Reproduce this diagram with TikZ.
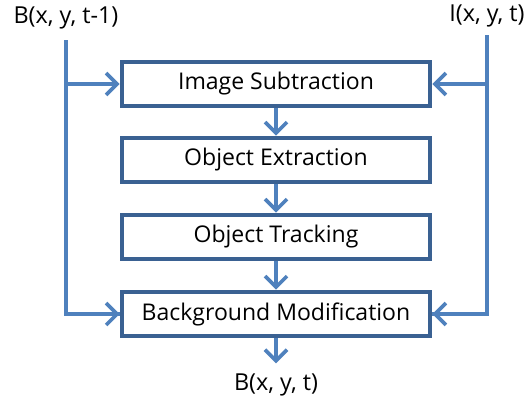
\documentclass[tikz,border=0pt]{standalone}
\usepackage{fontspec}
\setmainfont{Open Sans}
\usetikzlibrary{arrows.meta}
\definecolor{azul}{HTML}{4F81BD}
\definecolor{borda}{HTML}{3A6192}
\begin{document}
\begin{tikzpicture}[
                etapa/.style={shape=rectangle, draw=borda, line width=2.6pt, minimum width=6.16cm, minimum height=0.88cm, font=\fontsize{13.1}{15}\selectfont},
                rotulo/.style={font=\fontsize{13.3}{15}\selectfont, inner sep=1pt},
                fluxo/.style={draw=azul, line width=2.1pt},
                seta/.style={fluxo, -{Straight Barb[length=2.2mm, width=4.4mm]}},
            ]
            \useasboundingbox (0, 0) rectangle (10.62, 8.16);
            \node[etapa] (sub) at (5.52, 6.48) {Image Subtraction};
            \node[etapa] (ext) at (5.52, 4.96) {Object Extraction};
            \node[etapa] (trk) at (5.52, 3.42) {Object Tracking};
            \node[etapa] (mod) at (5.52, 1.88) {Background Modification};
            \node[rotulo] (bant) at (1.32, 7.80) {B(x, y, t-1)};
            \node[rotulo] (img) at (9.74, 7.84) {I(x, y, t)};
            \node[rotulo] (bnov) at (5.52, 0.46) {B(x, y, t)};
            \coordinate (esq) at (1.32, 7.36);
            \coordinate (dir) at (9.74, 7.46);
            \draw[fluxo] (esq) |- (mod.west);
            \draw[seta] (esq |- sub.west) -- (sub.west);
            \draw[seta] (esq |- mod.west) -- (mod.west);
            \draw[fluxo] (dir) |- (mod.east);
            \draw[seta] (dir |- sub.east) -- (sub.east);
            \draw[seta] (dir |- mod.east) -- (mod.east);
            \draw[seta] (sub) -- (ext);
            \draw[seta] (ext) -- (trk);
            \draw[seta] (trk) -- (mod);
            \draw[seta] (mod.south) -- ++(0, -0.5);
        \end{tikzpicture}
\end{document}
